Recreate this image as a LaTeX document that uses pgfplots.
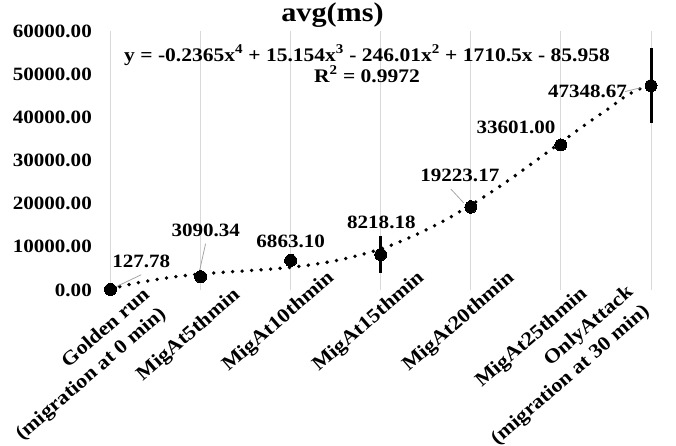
\documentclass[border=0pt]{standalone}
\usepackage{pgfplots}
\pgfplotsset{compat=1.18}
\usepackage{pgfplotstable}
\usepackage{fontspec}
\setmainfont{Liberation Serif}[FakeStretch=1.12]
\newcommand{\lbl}{\fontsize{18.8pt}{23pt}\selectfont\bfseries}
\newcommand{\cat}{\fontsize{19.8pt}{24.7pt}\selectfont\bfseries}
\definecolor{gridgray}{HTML}{D9D9D9}
\tikzset{mylabel/.style={font=\cat, align=right, inner sep=0pt, anchor=north east, rotate=41}}
\pgfplotsset{base/.style={scale only axis, width=540.5pt, height=259pt,
  xmin=1, xmax=7, ymin=0, ymax=60000, clip=false,
  axis line style={draw=none}, major tick length=0pt, tick style={draw=none},
  xmajorgrids, major grid style={color=gridgray, line width=0.9pt}}}

\pgfplotstableread{
x y err dx dy lab
1 127.78 0 30.8 27.7 127.78
2 3090.34 600 5.2 45.8 3090.34
3 6863.10 900 0 19 6863.10
4 8218.18 4350 0.6 32 8218.18
5 19223.17 1600 -11 31.5 19223.17
6 33601.00 400 -44.9 17.8 33601.00
7 47348.67 8600 -63.5 -6.2 47348.67
}\datatable

\pgfplotstableread{
x y
1.00 300
1.25 1450
1.50 2400
1.75 3150
2.00 3700
2.25 4100
2.50 4450
2.75 4800
3.00 5250
3.25 5900
3.50 6800
3.75 8000
4.00 9500
4.25 11500
4.50 13900
4.75 16600
5.00 19700
5.25 23000
5.50 26600
5.75 30400
6.00 34200
6.25 38000
6.50 41600
6.75 45300
7.00 47700
}\trendtable

\begin{document}
\begin{tikzpicture}
% category labels 3-5 (set a little higher, as in the reference)
\begin{axis}[base, hide y axis,
  xtick={3,4,5},
  xticklabels={MigAt10thmin,MigAt15thmin,MigAt20thmin},
  every x tick label/.style={xshift=35pt, yshift=21pt, mylabel}]
\end{axis}
% category label 6
\begin{axis}[base, hide y axis,
  xtick={6},
  xticklabels={MigAt25thmin},
  every x tick label/.style={xshift=18pt, yshift=5pt, mylabel}]
\end{axis}
% category label 7
\begin{axis}[base, hide y axis,
  xtick={7},
  xticklabels={{OnlyAttack\\(migration at 30 min)}},
  every x tick label/.style={xshift=-26pt, yshift=7pt, mylabel}]
\end{axis}
\begin{axis}[base,
  xtick={1,2},
  xticklabels={{Golden run\\(migration at 0 min)},MigAt5thmin},
  every x tick label/.style={xshift=31pt, yshift=4pt, mylabel},
  ytick={0,10000,...,60000},
  scaled y ticks=false,
  yticklabel style={font=\lbl, anchor=east, inner sep=0pt, xshift=-18.5pt,
    /pgf/number format/.cd, fixed, fixed zerofill, precision=2, 1000 sep={}, assume math mode=true},
]
\addplot[black, line width=3.8pt, line cap=round, dash pattern=on 0pt off 9.5pt, smooth] table[x=x,y=y]{\trendtable};
\addplot[only marks, mark=*, mark size=6pt, mark options={fill=black, draw=black, line width=0pt},
  error bars/.cd, y dir=both, y explicit, error mark=none, error bar style={line width=3pt, black}]
  table[x=x, y=y, y error=err]{\datatable};
\addplot[draw=none, mark=none, nodes near coords, point meta=explicit symbolic,
  visualization depends on={\thisrow{dx} \as \ldx},
  visualization depends on={\thisrow{dy} \as \ldy},
  every node near coord/.style={font=\lbl, anchor=center, inner sep=0pt, xshift=\ldx pt, yshift=\ldy pt}]
  table[x=x, y=y, meta=lab]{\datatable};
\draw[gray!70, line width=0.8pt] ([shift={(2pt,1pt)}]axis cs:1,127.78) -- ([shift={(30.7pt,14.7pt)}]axis cs:1,127.78);
\draw[gray!70, line width=0.8pt] ([shift={(-1pt,6pt)}]axis cs:2,3090.34) -- ([shift={(5pt,33pt)}]axis cs:2,3090.34);
\draw[gray!70, line width=0.8pt] ([shift={(-7pt,4pt)}]axis cs:5,19223.17) -- ([shift={(-20pt,18pt)}]axis cs:5,19223.17);
\draw[gray!70, line width=0.8pt] ([shift={(-10pt,-2pt)}]axis cs:7,47348.67) -- ([shift={(-26pt,-6pt)}]axis cs:7,47348.67);
\end{axis}
\node[font=\fontsize{27pt}{32pt}\selectfont\bfseries, anchor=base] at (222pt,268.5pt) {avg(ms)};
\node[font=\fontsize{19.2pt}{23pt}\selectfont\bfseries, anchor=base] at (256.5pt,229pt) {y = -0.2365x\textsuperscript{4} + 15.154x\textsuperscript{3} - 246.01x\textsuperscript{2} + 1710.5x - 85.958};
\node[font=\fontsize{19.2pt}{23pt}\selectfont\bfseries, anchor=base] at (256.5pt,208pt) {R\textsuperscript{2} = 0.9972};
\pgfresetboundingbox
\path[use as bounding box] (-110.5pt,-155pt) rectangle (565.5pt,290pt);
\end{tikzpicture}
\end{document}
